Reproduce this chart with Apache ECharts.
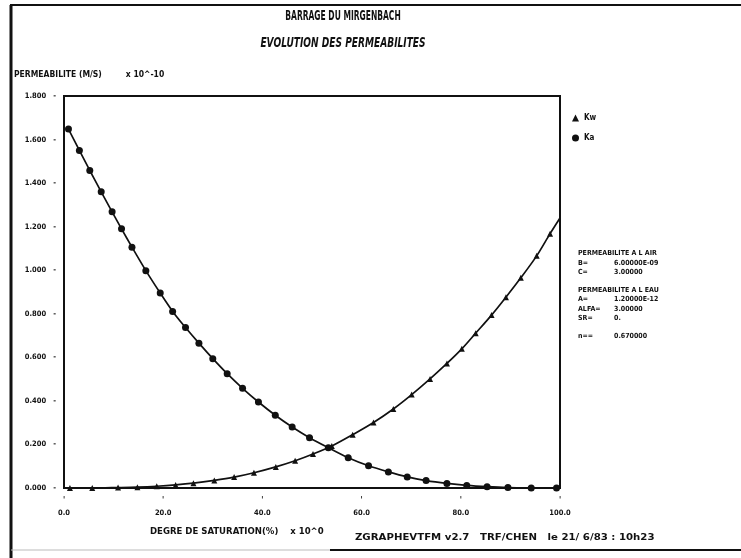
<!DOCTYPE html>
<html>
<head>
<meta charset="utf-8">
<script src="https://cdn.jsdelivr.net/npm/echarts@6/dist/echarts.min.js"></script>
<style>
  html, body { margin: 0; padding: 0; background: #fff; }
  #chart { width: 741px; height: 558px; }
</style>
</head>
<body>
<div id="chart"></div>
<script>
// ---- data ----
const titleMain = 'BARRAGE DU MIRGENBACH';
const titleSub = 'EVOLUTION DES PERMEABILITES';
const yAxisTitle = 'PERMEABILITE (M/S)         x 10^-10';
const xAxisTitle = 'DEGRE DE SATURATION(%)    x 10^0';
const footer = 'ZGRAPHEVTFM v2.7   TRF/CHEN   le 21/ 6/83 : 10h23';
const legendNames = ['Kw', 'Ka'];

// water permeability (triangles) : saturation %, permeability x1e-10
const satWater = [1.2, 5.7, 10.9, 14.8, 18.7, 22.5, 26.1, 30.3, 34.3, 38.3, 42.7, 46.6, 50.2, 54.0,
  58.2, 62.4, 66.4, 70.1, 73.8, 77.2, 80.2, 83.0, 86.2, 89.1, 92.1, 95.3, 98.0, 100];
const permWater = [0.000, 0.000, 0.002, 0.004, 0.008, 0.014, 0.022, 0.035, 0.050, 0.070, 0.097, 0.125, 0.156, 0.193,
  0.245, 0.301, 0.363, 0.429, 0.501, 0.572, 0.639, 0.711, 0.794, 0.876, 0.965, 1.066, 1.168, 1.240];

// air permeability (circles)
const satAir = [0.9, 3.1, 5.2, 7.5, 9.7, 11.6, 13.7, 16.5, 19.4, 21.9, 24.5, 27.2, 30.0, 32.9, 36.0, 39.2,
  42.6, 46.0, 49.5, 53.3, 57.3, 61.4, 65.4, 69.2, 73.0, 77.2, 81.2, 85.3, 89.5, 94.2, 99.3];
const permAir = [1.648, 1.550, 1.458, 1.360, 1.268, 1.190, 1.106, 0.998, 0.895, 0.811, 0.737, 0.665, 0.594, 0.525, 0.458, 0.395,
  0.334, 0.280, 0.231, 0.185, 0.139, 0.102, 0.074, 0.051, 0.034, 0.021, 0.012, 0.006, 0.002, 0.0005, 0.000];

const annotationLines = [
  ['PERMEABILITE A L AIR', ''],
  ['B=', '6.00000E-09'],
  ['C=', '3.00000'],
  ['', ''],
  ['PERMEABILITE A L EAU', ''],
  ['A=', '1.20000E-12'],
  ['ALFA=', '3.00000'],
  ['SR=', '0.'],
  ['', ''],
  ['n==', '0.670000']
];

const FONT = '"DejaVu Sans Condensed", "DejaVu Sans", sans-serif';
const INK = '#111';

const waterData = satWater.map((s, i) => {
  const p = { value: [s, permWater[i]] };
  if (s >= 100) p.symbol = 'none';
  return p;
});
const airData = satAir.map((s, i) => [s, permAir[i]]);

const chart = echarts.init(document.getElementById('chart'), null, { renderer: 'canvas' });

const annotGraphics = [];
annotationLines.forEach((ln, i) => {
  const y = 250 + i * 9.2;
  if (ln[0]) annotGraphics.push({ type: 'text', left: 578, top: y,
    style: { text: ln[0], font: 'bold 7px ' + FONT, fill: INK } });
  if (ln[1]) annotGraphics.push({ type: 'text', left: 614, top: y,
    style: { text: ln[1], font: 'bold 7px ' + FONT, fill: INK } });
});

chart.setOption({
  backgroundColor: '#fff',
  animation: false,
  legend: {
    orient: 'vertical', left: 567, top: 109, itemGap: 12, itemWidth: 7, itemHeight: 7,
    textStyle: { fontFamily: FONT, fontWeight: 'bold', fontSize: 8, color: INK },
    data: [{ name: legendNames[0], icon: 'triangle' }, { name: legendNames[1], icon: 'circle' }]
  },
  grid: { left: 64, right: 181, top: 96, bottom: 70, show: true, borderColor: INK, borderWidth: 2 },
  xAxis: {
    type: 'value', min: 0, max: 100, interval: 20,
    axisLine: { lineStyle: { color: INK, width: 2 } },
    axisTick: { show: false },
    splitLine: { show: false },
    axisLabel: {
      margin: 6,
      formatter: v => '{t|\'}\n{v|' + v.toFixed(1) + '}',
      rich: {
        t: { fontFamily: FONT, fontWeight: 'bold', fontSize: 8, color: INK, lineHeight: 14 },
        v: { fontFamily: FONT, fontWeight: 'bold', fontSize: 7.5, color: INK, lineHeight: 10 }
      }
    },
    name: xAxisTitle, nameLocation: 'start', nameGap: 0,
    nameTextStyle: { fontFamily: FONT, fontWeight: 'bold', fontSize: 9.5, color: INK,
      align: 'left', verticalAlign: 'top', padding: [39, 0, 0, 86] }
  },
  yAxis: {
    type: 'value', min: 0, max: 1.8, interval: 0.2,
    axisLine: { lineStyle: { color: INK, width: 2 } },
    axisTick: { show: false },
    splitLine: { show: false },
    axisLabel: { margin: 8, fontFamily: FONT, fontWeight: 'bold', fontSize: 7.5, color: INK,
      formatter: v => v.toFixed(3) + '   -' },
    name: yAxisTitle, nameLocation: 'end', nameGap: 0,
    nameTextStyle: { fontFamily: FONT, fontWeight: 'bold', fontSize: 8.5, color: INK,
      align: 'left', verticalAlign: 'bottom', padding: [0, 0, 17, -50] }
  },
  series: [
    { name: legendNames[0], type: 'line', data: waterData, smooth: 0.3,
      symbol: 'triangle', symbolSize: 6,
      itemStyle: { color: INK }, lineStyle: { color: INK, width: 1.7 } },
    { name: legendNames[1], type: 'line', data: airData, smooth: 0.3,
      symbol: 'circle', symbolSize: 7,
      itemStyle: { color: INK }, lineStyle: { color: INK, width: 1.7 } }
  ],
  graphic: [
    { type: 'text', x: 343, y: 16, scaleX: 0.6,
      style: { text: titleMain, font: 'bold 14px ' + FONT, fill: INK, textAlign: 'center', textVerticalAlign: 'middle' } },
    { type: 'text', x: 343, y: 43, scaleX: 0.72,
      style: { text: titleSub, font: 'italic bold 14px ' + FONT, fill: INK, textAlign: 'center', textVerticalAlign: 'middle' } },
    { type: 'line', shape: { x1: 10, y1: 5, x2: 741, y2: 5 }, style: { stroke: INK, lineWidth: 2 } },
    { type: 'line', shape: { x1: 11, y1: 5, x2: 11, y2: 558 }, style: { stroke: INK, lineWidth: 3 } },
    { type: 'line', shape: { x1: 11, y1: 550, x2: 330, y2: 550 }, style: { stroke: '#bbb', lineWidth: 1 } },
    { type: 'line', shape: { x1: 330, y1: 550, x2: 741, y2: 550 }, style: { stroke: INK, lineWidth: 2 } },
    { type: 'text', x: 355, y: 538, scaleX: 1.33,
      style: { text: footer, font: 'bold 8.5px ' + FONT, fill: INK, textVerticalAlign: 'middle' } }
  ].concat(annotGraphics)
});
</script>
</body>
</html>
